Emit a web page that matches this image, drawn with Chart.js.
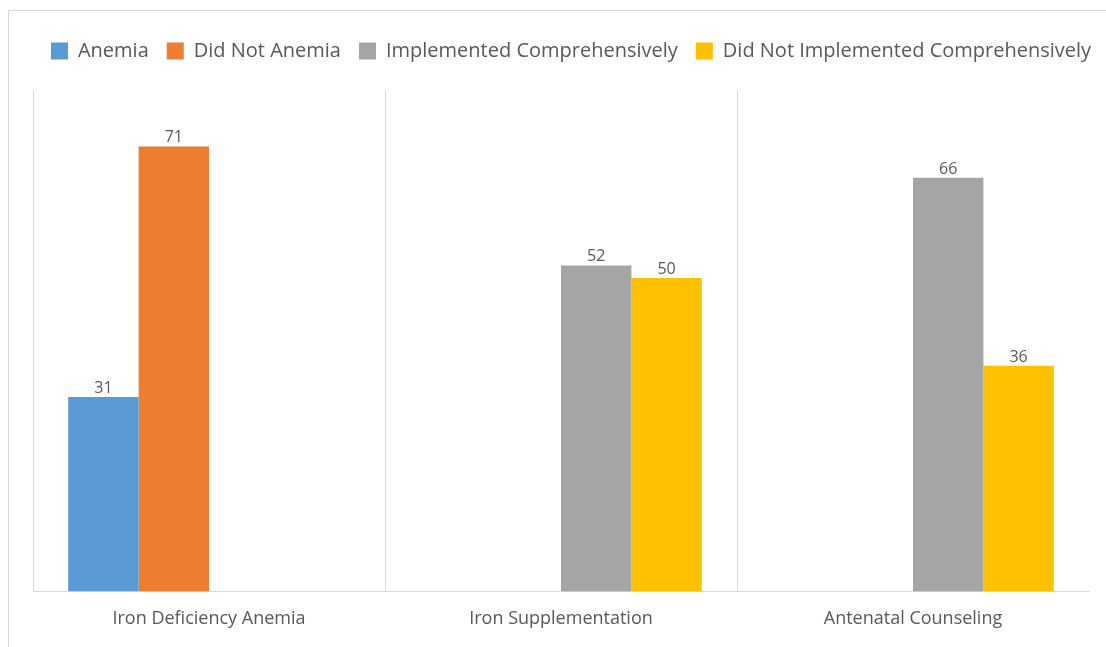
<!DOCTYPE html>
<html lang="en">
<head>
<meta charset="UTF-8">
<title>Anemia chart</title>
<script src="https://cdn.jsdelivr.net/npm/chart.js@4.4.0/dist/chart.umd.min.js"></script>
<style>
    body { margin: 0; overflow: hidden; background: #fff; }
    #frame {
        position: absolute; left: 8px; top: 10px;
        width: 1200px; height: 700px;
        border: 1px solid #d9d9d9;
    }
    #holder { position: absolute; left: 0; top: 0; width: 1106px; height: 647px; }
</style>
</head>
<body>
<div id="frame"></div>
<div id="holder"><canvas id="myChart"></canvas></div>
<script>
    const categories = ['Iron Deficiency Anemia', 'Iron Supplementation', 'Antenatal Counseling']
    const anemia = [31, null, null]
    const didNotAnemia = [71, null, null]
    const implemented = [null, 52, 66]
    const notImplemented = [null, 50, 36]

    const textColor = '#595959'
    const fontFamily = "'Open Sans', 'Noto Sans', sans-serif"

    // value labels above bars
    const barLabels = {
        id: 'barLabels',
        afterDatasetsDraw(chart) {
            const ctx = chart.ctx
            ctx.save()
            ctx.font = '16px ' + fontFamily
            ctx.fillStyle = textColor
            ctx.textAlign = 'center'
            ctx.textBaseline = 'alphabetic'
            chart.data.datasets.forEach((ds, i) => {
                chart.getDatasetMeta(i).data.forEach((bar, j) => {
                    const v = ds.data[j]
                    if (v == null) return
                    ctx.fillText(v, bar.x, bar.y - 4)
                })
            })
            ctx.restore()
        }
    }

    // keep legend on one row, add a gap under it, centre it at x=571
    const legendTweak = {
        id: 'legendTweak',
        beforeInit(chart) {
            const fit = chart.legend.fit
            chart.legend.fit = function () {
                this.maxWidth = 1200
                fit.bind(chart.legend)()
                this.height += 19
            }
        },
        afterLayout(chart) {
            chart.legend.left = 571 - 600
            chart.legend.right = 571 + 600
        }
    }

    const ctx = document.getElementById('myChart').getContext('2d')
    const myChart = new Chart(ctx, {
        type: 'bar',
        data: {
            labels: categories,
            datasets: [
                { label: 'Anemia', data: anemia, backgroundColor: '#5B9BD5' },
                { label: 'Did Not Anemia', data: didNotAnemia, backgroundColor: '#ED7D31' },
                { label: 'Implemented Comprehensively', data: implemented, backgroundColor: '#A5A5A5' },
                { label: 'Did Not Implemented Comprehensively', data: notImplemented, backgroundColor: '#FFC000' }
            ]
        },
        options: {
            responsive: true,
            maintainAspectRatio: false,
            animation: false,
            categoryPercentage: 0.8,
            barPercentage: 1.0,
            layout: { padding: { left: 33, right: 17, top: 23, bottom: 0 } },
            scales: {
                x: {
                    grid: {
                        drawTicks: false,
                        color: (c) => c.tick === undefined ? 'rgba(0,0,0,0)' : '#d9d9d9'
                    },
                    border: { color: '#d9d9d9' },
                    ticks: {
                        color: textColor,
                        padding: 17,
                        font: { family: fontFamily, size: 18 }
                    }
                },
                y: { display: false, min: 0, max: 80 }
            },
            plugins: {
                tooltip: { enabled: false },
                legend: {
                    position: 'top',
                    labels: {
                        color: textColor,
                        boxWidth: 17,
                        boxHeight: 17,
                        padding: 18,
                        font: { family: fontFamily, size: 20 }
                    }
                }
            }
        },
        plugins: [barLabels, legendTweak]
    })
</script>
</body>
</html>
